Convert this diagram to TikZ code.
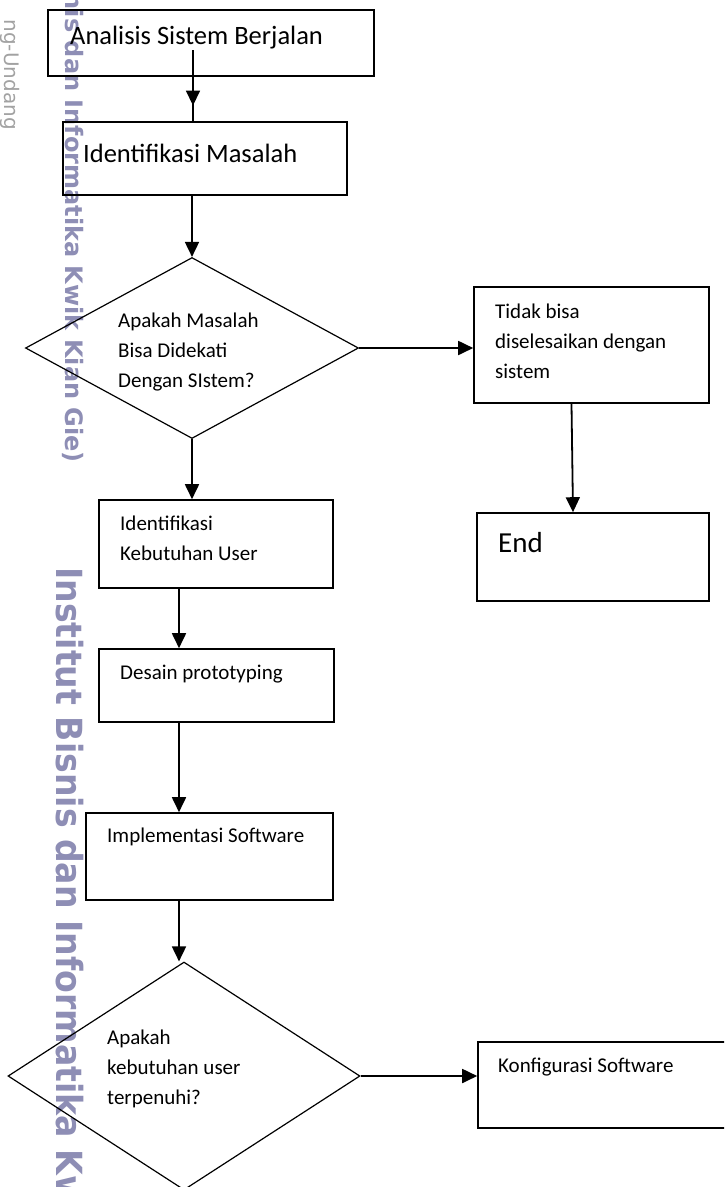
\documentclass[tikz,border=0pt]{standalone}
\usepackage{fontspec}
\setmainfont{Carlito}
\newfontfamily\markfont{DejaVu Sans}
\usetikzlibrary{arrows.meta,shapes.geometric,decorations.markings}
\definecolor{MarkPurple}{HTML}{8E8EB5}
\definecolor{MarkGray}{HTML}{A2A2A2}

\begin{document}
\begin{tikzpicture}[x=1pt,y=-1pt,>={Triangle[length=15pt,width=14pt]},
  stepbox/.style={draw,line width=1.6pt,inner sep=0pt},
  choice/.style={draw,diamond,line width=1.2pt,inner sep=0pt},
  flow/.style={->,line width=1.8pt},
  smalltxt/.style={anchor=west,align=left,inner sep=0pt,
    font=\fontsize{21}{30}\selectfont},
  bigtxt/.style={anchor=west,inner sep=0pt,font=\fontsize{26.5}{32}\selectfont}]
  \useasboundingbox (0,0) rectangle (724,1187);
  \clip (0,0) rectangle (724,1187);

  % Watermark down the left edge.
  \node[MarkGray,rotate=-90,anchor=east,inner sep=0pt,
        font=\markfont\fontsize{20}{20}\selectfont] (mark1) at (10,130) {ng-Undang};
  \node[MarkPurple,rotate=-90,anchor=east,inner sep=0pt,
        font=\markfont\bfseries\fontsize{24}{24}\selectfont] (mark2) at (73,463)
        {nis dan Informatika Kwik Kian Gie)};
  \node[MarkPurple,rotate=-90,anchor=west,inner sep=0pt,
        font=\markfont\bfseries\fontsize{36}{36}\selectfont] (mark3) at (70,567)
        {\scalebox{0.92}[1]{Institut Bisnis dan Informatika Kw}};

  % Upper part.
  \node[stepbox,minimum width=326pt,minimum height=66pt] (analisis) at (211,43) {};
  \node[bigtxt] (tanalisis) at (70,38) {Analisis Sistem Berjalan};
  \node[stepbox,minimum width=284pt,minimum height=73pt] (masalah) at (205,158.5) {};
  \node[bigtxt] (tmasalah) at (83,153) {Identifikasi Masalah};
  \node[choice,minimum width=333pt,minimum height=181pt] (cek) at (192,348) {};
  \node[smalltxt] (tcek) at (118,352)
        {Apakah Masalah\\Bisa Didekati\\Dengan SIstem?};

  % Right branch.
  \node[stepbox,minimum width=235pt,minimum height=116pt] (tidak) at (591.5,345) {};
  \node[smalltxt] (ttidak) at (495,341)
        {Tidak bisa\\diselesaikan dengan\\sistem};
  \node[stepbox,minimum width=232pt,minimum height=88pt] (selesai) at (593,557) {};
  \node[anchor=west,inner sep=0pt,font=\fontsize{29}{32}\selectfont]
        (tselesai) at (498,543) {End};

  % Lower part.
  \node[stepbox,minimum width=234pt,minimum height=88pt] (kebutuhan) at (216,544) {};
  \node[smalltxt] (tkebutuhan) at (120,538.5) {Identifikasi\\Kebutuhan User};
  \node[stepbox,minimum width=235pt,minimum height=73pt] (desain) at (216.5,685.5) {};
  \node[smalltxt] (tdesain) at (120,674) {Desain prototyping};
  \node[stepbox,minimum width=247pt,minimum height=87pt] (implementasi) at (209.5,856.5) {};
  \node[smalltxt] (timplementasi) at (107,837) {Implementasi Software};
  \node[choice,minimum width=352pt,minimum height=228pt] (puas) at (184,1076) {};
  \node[smalltxt] (tpuas) at (107,1069)
        {Apakah\\kebutuhan user\\terpenuhi?};
  \node[stepbox,minimum width=267pt,minimum height=86pt] (konfigurasi) at (611.5,1085) {};
  \node[smalltxt] (tkonfigurasi) at (498,1067) {Konfigurasi Software};

  % Connectors.
  \coordinate (mulai) at (193,50);
  \draw[line width=1.8pt,postaction={decorate},
        decoration={markings,mark=at position 0.78 with {\arrow{>}}}]
        (mulai) -- (mulai |- masalah.north);
  \draw[flow] (masalah.south -| cek.north) -- (cek.north);
  \draw[flow] (cek.east) -- (cek.east -| tidak.west);
  \draw[flow] ([xshift=-20pt]tidak.south) -- ([xshift=-20pt]selesai.north);
  \draw[flow] (cek.south) -- (cek.south |- kebutuhan.north);
  \draw[flow] ([xshift=-37pt]kebutuhan.south) -- ([xshift=-37.5pt]desain.north);
  \draw[flow] ([xshift=-37.5pt]desain.south) -- ([xshift=-30.5pt]implementasi.north);
  \draw[flow] ([xshift=-30.5pt]implementasi.south) -- ([xshift=-5pt]puas.north);
  \draw[flow] (puas.east) -- (puas.east -| konfigurasi.west);
\end{tikzpicture}
\end{document}
